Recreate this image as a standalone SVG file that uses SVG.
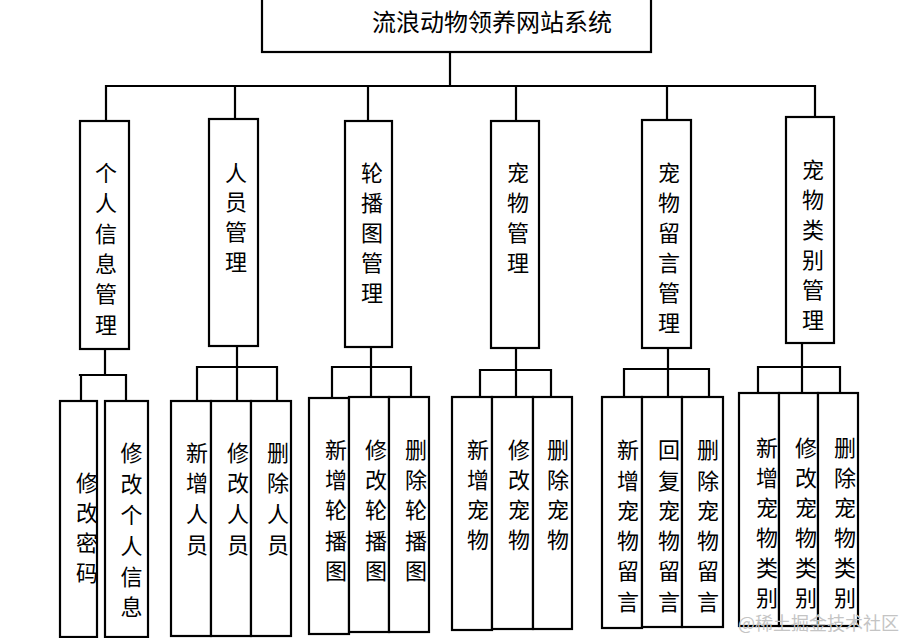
<svg xmlns="http://www.w3.org/2000/svg" width="906" height="638" viewBox="0 0 906 638">
<style>
.b{fill:#fff;stroke:#000;stroke-width:2.2}
.c{fill:none;stroke:#000;stroke-width:2.2;stroke-linecap:square}
.t{font-family:"Noto Sans CJK SC","Noto Sans",sans-serif;font-size:22px;text-anchor:middle;fill:#000}
.h{font-family:"Noto Sans CJK SC","Noto Sans",sans-serif;font-size:24px;text-anchor:middle;fill:#000}
.w{font-family:"Noto Sans CJK SC","Noto Sans",sans-serif;font-size:18px;fill:#c4c4c4}
</style>
<rect width="906" height="638" fill="#fff"/>
<g id="connectors">
<path class="c" d="M450,52V86M106,86H815M106,86V121M235,86V119M368,86V121M516,86V121M667,86V120M815,86V117"/>
<path class="c" d="M105,349V375M80,375H126M81,375V401M126,375V401"/>
<path class="c" d="M237,346V401M197,367H277M197,367V401M277,367V401"/>
<path class="c" d="M371,347V397M332,367H411M332,367V398M411,367V397"/>
<path class="c" d="M516,348V397M480,370H551M480,370V397M551,370V397"/>
<path class="c" d="M668,348V397M624,369H709M624,369V397M709,369V397"/>
<path class="c" d="M802,343V393M758,367H840M758,367V393M840,367V393"/>
</g>
<g id="root"><rect class="b" x="262" y="-2" width="389" height="54"/><text class="h" x="492" y="31">流浪动物领养网站系统</text></g>
<g id="n1"><rect class="b" x="80" y="121" width="49" height="228"/><text class="t"><tspan x="106" y="181">个</tspan><tspan x="106" y="211">人</tspan><tspan x="106" y="242">信</tspan><tspan x="106" y="272">息</tspan><tspan x="106" y="302">管</tspan><tspan x="106" y="333">理</tspan></text></g>
<g id="n2"><rect class="b" x="209" y="119" width="49" height="227"/><text class="t"><tspan x="236" y="181">人</tspan><tspan x="236" y="210">员</tspan><tspan x="236" y="240">管</tspan><tspan x="236" y="270">理</tspan></text></g>
<g id="n3"><rect class="b" x="345" y="121" width="47" height="226"/><text class="t"><tspan x="372" y="181">轮</tspan><tspan x="372" y="211">播</tspan><tspan x="372" y="241">图</tspan><tspan x="372" y="271">管</tspan><tspan x="372" y="301">理</tspan></text></g>
<g id="n4"><rect class="b" x="491" y="121" width="48" height="227"/><text class="t"><tspan x="518" y="181">宠</tspan><tspan x="518" y="211">物</tspan><tspan x="518" y="241">管</tspan><tspan x="518" y="271">理</tspan></text></g>
<g id="n5"><rect class="b" x="642" y="120" width="49" height="228"/><text class="t"><tspan x="669" y="181">宠</tspan><tspan x="669" y="211">物</tspan><tspan x="669" y="241">留</tspan><tspan x="669" y="271">言</tspan><tspan x="669" y="301">管</tspan><tspan x="669" y="331">理</tspan></text></g>
<g id="n6"><rect class="b" x="786" y="117" width="48" height="226"/><text class="t"><tspan x="813" y="178">宠</tspan><tspan x="813" y="208">物</tspan><tspan x="813" y="238">类</tspan><tspan x="813" y="268">别</tspan><tspan x="813" y="298">管</tspan><tspan x="813" y="328">理</tspan></text></g>
<g id="a1"><rect class="b" x="60" y="401" width="37" height="236"/><text class="t"><tspan x="87" y="491">修</tspan><tspan x="87" y="521">改</tspan><tspan x="87" y="551">密</tspan><tspan x="87" y="581">码</tspan></text></g>
<g id="a2"><rect class="b" x="105" y="401" width="43" height="236"/><text class="t"><tspan x="131.5" y="461">修</tspan><tspan x="131.5" y="492">改</tspan><tspan x="131.5" y="523">个</tspan><tspan x="131.5" y="554">人</tspan><tspan x="131.5" y="585">信</tspan><tspan x="131.5" y="615">息</tspan></text></g>
<g id="b1"><rect class="b" x="171" y="401" width="40" height="235"/><text class="t"><tspan x="197" y="461">新</tspan><tspan x="197" y="491">增</tspan><tspan x="197" y="522">人</tspan><tspan x="197" y="553">员</tspan></text></g>
<g id="b2"><rect class="b" x="211" y="401" width="40" height="235"/><text class="t"><tspan x="238" y="461">修</tspan><tspan x="238" y="491">改</tspan><tspan x="238" y="522">人</tspan><tspan x="238" y="553">员</tspan></text></g>
<g id="b3"><rect class="b" x="251" y="401" width="40" height="235"/><text class="t"><tspan x="278" y="461">删</tspan><tspan x="278" y="491">除</tspan><tspan x="278" y="522">人</tspan><tspan x="278" y="553">员</tspan></text></g>
<g id="c1"><rect class="b" x="309" y="398" width="40" height="236"/><text class="t"><tspan x="336" y="458">新</tspan><tspan x="336" y="488">增</tspan><tspan x="336" y="518">轮</tspan><tspan x="336" y="549">播</tspan><tspan x="336" y="579">图</tspan></text></g>
<g id="c2"><rect class="b" x="349" y="397" width="40" height="235"/><text class="t"><tspan x="376" y="458">修</tspan><tspan x="376" y="488">改</tspan><tspan x="376" y="518">轮</tspan><tspan x="376" y="549">播</tspan><tspan x="376" y="579">图</tspan></text></g>
<g id="c3"><rect class="b" x="389" y="397" width="40" height="235"/><text class="t"><tspan x="416" y="458">删</tspan><tspan x="416" y="488">除</tspan><tspan x="416" y="518">轮</tspan><tspan x="416" y="549">播</tspan><tspan x="416" y="579">图</tspan></text></g>
<g id="d1"><rect class="b" x="452" y="397" width="40" height="233"/><text class="t"><tspan x="478" y="458">新</tspan><tspan x="478" y="488">增</tspan><tspan x="478" y="518">宠</tspan><tspan x="478" y="548">物</tspan></text></g>
<g id="d2"><rect class="b" x="492" y="397" width="41" height="232"/><text class="t"><tspan x="519" y="458">修</tspan><tspan x="519" y="488">改</tspan><tspan x="519" y="518">宠</tspan><tspan x="519" y="548">物</tspan></text></g>
<g id="d3"><rect class="b" x="533" y="397" width="39" height="232"/><text class="t"><tspan x="558" y="458">删</tspan><tspan x="558" y="488">除</tspan><tspan x="558" y="518">宠</tspan><tspan x="558" y="548">物</tspan></text></g>
<g id="e1"><rect class="b" x="602" y="397" width="40" height="231"/><text class="t"><tspan x="628" y="458">新</tspan><tspan x="628" y="489">增</tspan><tspan x="628" y="519">宠</tspan><tspan x="628" y="549">物</tspan><tspan x="628" y="579">留</tspan><tspan x="628" y="610">言</tspan></text></g>
<g id="e2"><rect class="b" x="642" y="397" width="40" height="230"/><text class="t"><tspan x="669" y="458">回</tspan><tspan x="669" y="489">复</tspan><tspan x="669" y="519">宠</tspan><tspan x="669" y="549">物</tspan><tspan x="669" y="579">留</tspan><tspan x="669" y="610">言</tspan></text></g>
<g id="e3"><rect class="b" x="682" y="397" width="41" height="230"/><text class="t"><tspan x="708" y="458">删</tspan><tspan x="708" y="489">除</tspan><tspan x="708" y="519">宠</tspan><tspan x="708" y="549">物</tspan><tspan x="708" y="579">留</tspan><tspan x="708" y="610">言</tspan></text></g>
<g id="f1"><rect class="b" x="739" y="393" width="40" height="233"/><text class="t"><tspan x="767" y="456">新</tspan><tspan x="767" y="486">增</tspan><tspan x="767" y="516">宠</tspan><tspan x="767" y="546">物</tspan><tspan x="767" y="576">类</tspan><tspan x="767" y="606">别</tspan></text></g>
<g id="f2"><rect class="b" x="779" y="393" width="39" height="233"/><text class="t"><tspan x="806" y="456">修</tspan><tspan x="806" y="486">改</tspan><tspan x="806" y="516">宠</tspan><tspan x="806" y="546">物</tspan><tspan x="806" y="576">类</tspan><tspan x="806" y="606">别</tspan></text></g>
<g id="f3"><rect class="b" x="818" y="393" width="40" height="233"/><text class="t"><tspan x="845" y="456">删</tspan><tspan x="845" y="486">除</tspan><tspan x="845" y="516">宠</tspan><tspan x="845" y="546">物</tspan><tspan x="845" y="576">类</tspan><tspan x="845" y="606">别</tspan></text></g>
<text class="w" x="738" y="630">@稀土掘金技术社区</text>
</svg>
